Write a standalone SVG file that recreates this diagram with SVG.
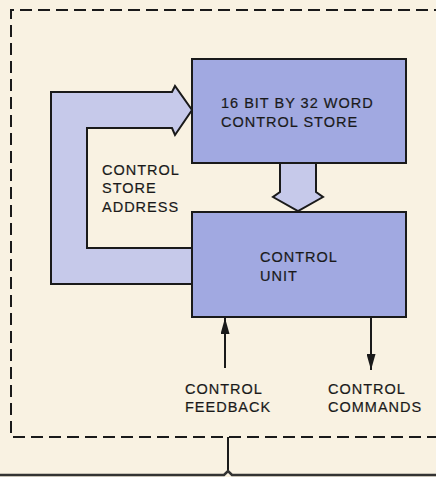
<svg xmlns="http://www.w3.org/2000/svg" width="436" height="477" viewBox="0 0 436 477">
<style>
.bg{fill:#f9f2e2}
.box{fill:#a1a9e1;stroke:#1a1a1a;stroke-width:2}
.bus{fill:#c6c9ea;stroke:#1a1a1a;stroke-width:2;stroke-linejoin:miter}
.dash{fill:none;stroke:#1a1a1a;stroke-width:2;stroke-dasharray:12 6}
.line{fill:none;stroke:#1a1a1a;stroke-width:2}
text{font-family:"Liberation Sans",Arial,sans-serif;font-size:14.5px;fill:#1a1a1a;letter-spacing:1px;stroke:#1a1a1a;stroke-width:0.2}
</style>
<defs>
<marker id="ah" viewBox="0 0 16 9" refX="16" refY="4.5" markerWidth="16" markerHeight="9" markerUnits="userSpaceOnUse" orient="auto">
<path d="M0,0 L16,4.5 L0,9 z" fill="#1a1a1a"/>
</marker>
</defs>
<rect class="bg" width="436" height="477"/>
<path class="dash" d="M446,10 H11 V437 H446"/>
<g id="bracket">
<path class="line" d="M228,437 V471"/>
<path d="M0,475 H224 L228,471 L232,475 H436" fill="none" stroke="#333" stroke-width="2.5"/>
</g>
<g id="connectors">
<path class="bus" d="M192,284 H51 V92 H172 L175,86 L192,110 L175,135 L172,128 H87 V248 H192"/>
<path class="bus" d="M280,163 V192 L273,197 L298,211 L323,197 L316,192 V163"/>
<path class="line" d="M225,368 V318" marker-end="url(#ah)" stroke-width="2.5"/>
<path class="line" d="M371,317 V370" marker-end="url(#ah)" stroke-width="2.5"/>
</g>
<g id="control-store">
<rect class="box" x="192" y="59" width="214" height="104"/>
<text x="221" y="108">16 BIT BY 32 WORD</text>
<text x="221" y="127">CONTROL STORE</text>
</g>
<g id="control-unit">
<rect class="box" x="192" y="212" width="214" height="105"/>
<text x="260" y="262">CONTROL</text>
<text x="260" y="281">UNIT</text>
</g>
<g id="address-label">
<text x="102" y="175">CONTROL</text>
<text x="102" y="193">STORE</text>
<text x="102" y="212">ADDRESS</text>
</g>
<g id="feedback-label">
<text x="185" y="394">CONTROL</text>
<text x="185" y="412">FEEDBACK</text>
</g>
<g id="commands-label">
<text x="328" y="394">CONTROL</text>
<text x="328" y="412">COMMANDS</text>
</g>
</svg>
